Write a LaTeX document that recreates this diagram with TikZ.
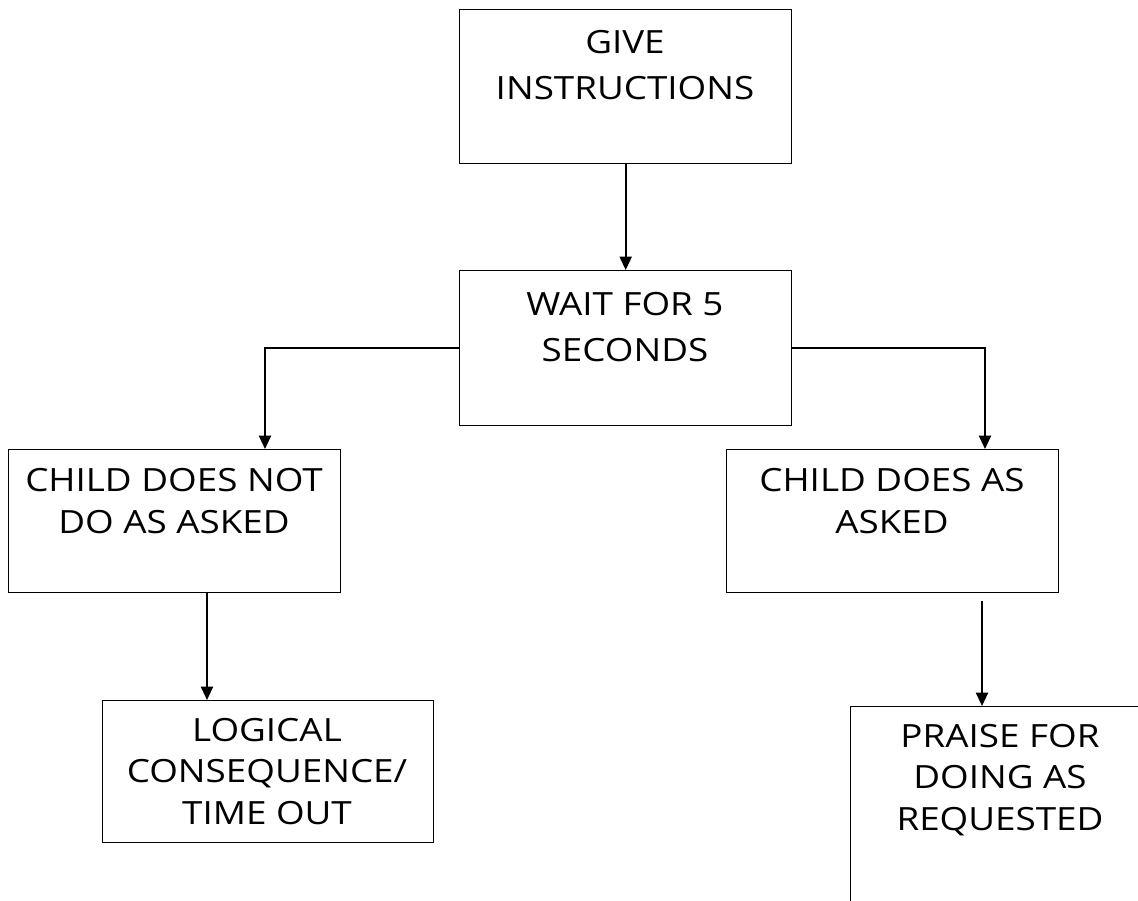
\documentclass[tikz,border=0pt]{standalone}
\usepackage{fontspec}
\setmainfont{Open Sans}[FakeStretch=1.15]
\usetikzlibrary{arrows.meta}
\begin{document}
\begin{tikzpicture}[x=0.75pt,y=-0.75pt,
  box/.style={draw=black, line width=1pt, rectangle, inner sep=0pt, anchor=north west},
  lbl/.style={align=center, font=\fontsize{24}{31}\selectfont, inner sep=0pt, anchor=base},
  wide/.style={font=\fontsize{24}{34}\selectfont},
  arrow/.style={draw=black, line width=1.5pt, -{Triangle[width=9pt,length=10pt]}}]
\useasboundingbox (0,0) rectangle (1138,900);
\clip (0,0) rectangle (1138,900);
\fill[white] (0,0) rectangle (1138,900);

% boxes
\node[box, minimum width=332*0.75pt, minimum height=154*0.75pt] (give) at (459,9) {};
\node[box, minimum width=332*0.75pt, minimum height=155*0.75pt] (wait) at (459,270) {};
\node[box, minimum width=332*0.75pt, minimum height=143*0.75pt] (notdo) at (8,449) {};
\node[box, minimum width=331*0.75pt, minimum height=142*0.75pt] (logic) at (102,700) {};
\node[box, minimum width=332*0.75pt, minimum height=143*0.75pt] (does) at (726,449) {};
\node[box, minimum width=310*0.75pt, minimum height=220*0.75pt] (praise) at (850,706) {};

% texts (placed by the baseline of their last line)
\node[lbl, wide] (tgive) at (625,99) {GIVE\\INSTRUCTIONS};
\node[lbl, wide] (twait) at (625,361) {WAIT FOR 5\\SECONDS};
\node[lbl] (tnotdo) at (174,533) {CHILD DOES NOT\\DO AS ASKED};
\node[lbl] (tlogic) at (267,824) {LOGICAL\\CONSEQUENCE/\\TIME OUT};
\node[lbl] (tdoes) at (892,533) {CHILD DOES AS\\ASKED};
\node[lbl] (tpraise) at (1000,830) {PRAISE FOR\\DOING AS\\REQUESTED};

% connector end points
\coordinate (notdoIn) at (265,449);
\coordinate (doesIn) at (985,449);
\coordinate (notdoOut) at (207,592);
\coordinate (logicIn) at (207,700);
\coordinate (doesOut) at (982,601);
\coordinate (praiseIn) at (982,706);

% connectors
\draw[arrow] (give.south) -- (wait.north);
\draw[arrow] (wait.west) -| (notdoIn);
\draw[arrow] (wait.east) -| (doesIn);
\draw[arrow] (notdoOut) -- (logicIn);
\draw[arrow] (doesOut) -- (praiseIn);
\end{tikzpicture}
\end{document}
